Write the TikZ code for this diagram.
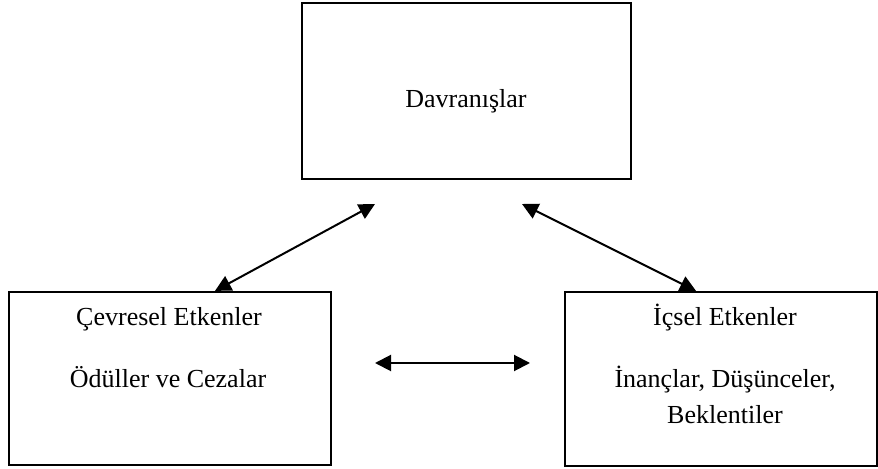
\documentclass[tikz,border=0pt]{standalone}
\usepackage{fontspec}
\setmainfont{Liberation Serif}
\usetikzlibrary{positioning, arrows.meta, calc}

\begin{document}
\begin{tikzpicture}[x=0.5pt, y=-0.5pt,
  font=\fontsize{13}{18}\selectfont,
  box/.style={draw=black, line width=1.1pt, inner sep=0pt},
  lbl/.style={anchor=base, align=center, inner sep=0pt},
  link/.style={{Triangle[length=8pt, width=8pt]}-{Triangle[length=8pt, width=8pt]}, line width=1pt}]

  \useasboundingbox (0,0) rectangle (878,469);

  % Boxes
  \node[box, minimum width=164.5pt, minimum height=88pt] (top) at (466.5,91) {};
  \node[box, minimum width=161pt, minimum height=86.5pt] (lbox) at (170,378.5) {};
  \node[box, minimum width=156pt, minimum height=87pt] (rbox) at (721,379) {};

  % Texts
  \node[lbl] (davr) at (466,108) {Davranışlar};
  \node[lbl] (cevre) at (169,326) {Çevresel Etkenler};
  \node[lbl] (odul) at (168,388) {Ödüller ve Cezalar};
  \node[lbl] (icsel) at (725,326) {İçsel Etkenler};
  \node[lbl] (inanc) at (725,424) {İnançlar, Düşünceler,\\Beklentiler};

  % Free ends
  \coordinate (tl) at (375,204);
  \coordinate (tr) at (522,204);
  \coordinate (hl) at (375,363);
  \coordinate (hr) at (530,363);

  % Arrows
  \draw[link] (tl) -- ($(lbox.north)+(45,0)$);
  \draw[link] (tr) -- ($(rbox.north)+(-25,0)$);
  \draw[link] (hl) -- (hr);
\end{tikzpicture}
\end{document}
